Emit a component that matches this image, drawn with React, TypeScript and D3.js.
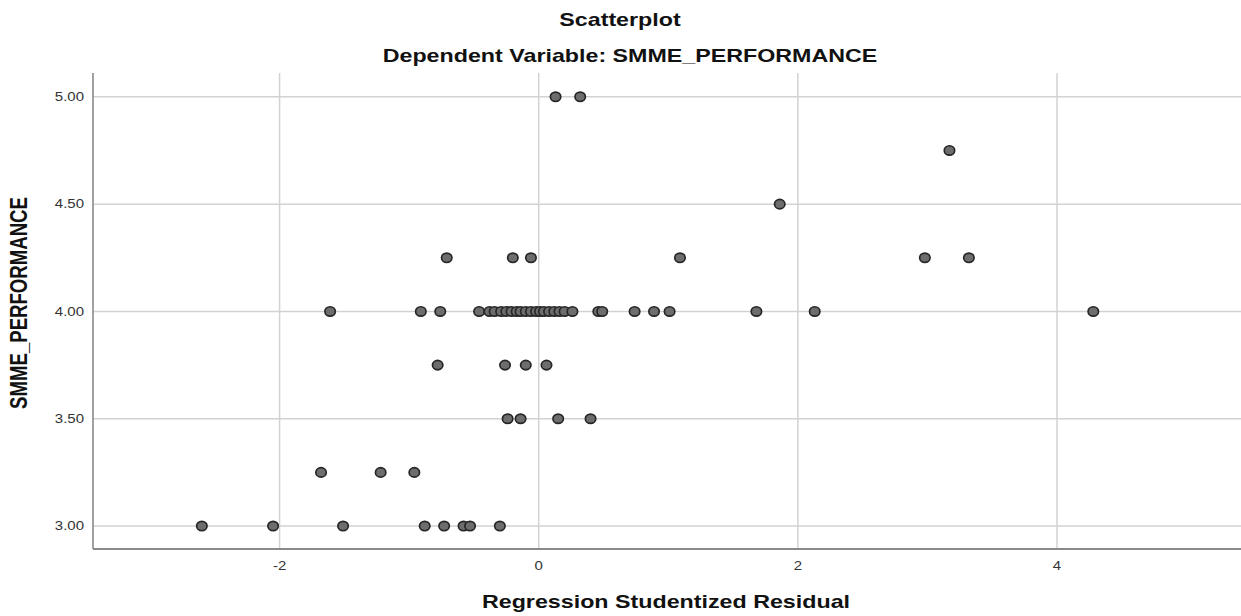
import React from 'react';
import * as d3 from 'd3';

const title = 'Scatterplot';
const subtitle = 'Dependent Variable: SMME_PERFORMANCE';
const xLabel = 'Regression Studentized Residual';
const yLabel = 'SMME_PERFORMANCE';
const xTicks = [-2, 0, 2, 4];
const yTicks = [3.0, 3.5, 4.0, 4.5, 5.0];

// residuals grouped by SMME_PERFORMANCE level
const perf500 = [0.13, 0.32];
const perf475 = [3.17];
const perf450 = [1.86];
const perf425 = [-0.71, -0.2, -0.06, 1.09, 2.98, 3.32];
const perf400 = [
  -1.61, -0.91, -0.76, -0.46, -0.38, -0.34, -0.29, -0.25, -0.21, -0.17, -0.14, -0.1, -0.06,
  -0.02, 0.01, 0.04, 0.08, 0.12, 0.16, 0.2, 0.26, 0.46, 0.49, 0.74, 0.89, 1.01, 1.68, 2.13, 4.28,
];
const perf375 = [-0.78, -0.26, -0.1, 0.06];
const perf350 = [-0.24, -0.14, 0.15, 0.4];
const perf325 = [-1.68, -1.22, -0.96];
const perf300 = [-2.6, -2.05, -1.51, -0.88, -0.73, -0.58, -0.53, -0.3];

const levels = [5.0, 4.75, 4.5, 4.25, 4.0, 3.75, 3.5, 3.25, 3.0];
const residualsByLevel = [perf500, perf475, perf450, perf425, perf400, perf375, perf350, perf325, perf300];

const W = 1241;
const H = 616;
const K = 1.25; // horizontal stretch of the reference
const VW = W / K;
const FONT = '"Liberation Sans", Arial, sans-serif';

export default function App() {
  const x = d3.scaleLinear().domain([-3.44, 5.42]).range([93 / K, W / K]);
  const y = d3.scaleLinear().domain([2.893, 5.111]).range([549, 73]);
  const [x0, x1] = x.range();
  const [yb, yt] = y.range();

  const points: { rx: number; lv: number }[] = [];
  levels.forEach((lv, i) => residualsByLevel[i].forEach((rx) => points.push({ rx, lv })));

  return (
    <svg
      width={W}
      height={H}
      viewBox={`0 0 ${VW} ${H}`}
      preserveAspectRatio="none"
      style={{ position: 'absolute', left: 0, top: 0, display: 'block' }}
    >
      <rect x={0} y={0} width={VW} height={H} fill="#fff" />
      {yTicks.map((t) => (
        <line key={'hy' + t} x1={x0} x2={x1} y1={y(t)} y2={y(t)} stroke="#d2d2d2" strokeWidth={1.5} vectorEffect="non-scaling-stroke" />
      ))}
      {xTicks.map((t) => (
        <line key={'vx' + t} x1={x(t)} x2={x(t)} y1={yt} y2={yb} stroke="#d2d2d2" strokeWidth={1.5} vectorEffect="non-scaling-stroke" />
      ))}
      <line x1={x0} x2={x0} y1={yt} y2={yb} stroke="#8a8a8a" strokeWidth={1.6} vectorEffect="non-scaling-stroke" />
      <line x1={x0} x2={x1} y1={yb} y2={yb} stroke="#8a8a8a" strokeWidth={1.8} vectorEffect="non-scaling-stroke" />
      {points.map((p, i) => (
        <ellipse
          key={i}
          cx={x(p.rx)}
          cy={y(p.lv)}
          rx={5.2 / K}
          ry={4.7}
          fill="#6d6d6d"
          stroke="#262626"
          strokeWidth={1.7}
          vectorEffect="non-scaling-stroke"
        />
      ))}
      {yTicks.map((t) => (
        <text key={'ly' + t} x={84 / K} y={y(t) + 4.3} textAnchor="end" fontFamily={FONT} fontSize={12} fill="#333">
          {t.toFixed(2)}
        </text>
      ))}
      {xTicks.map((t) => (
        <text key={'lx' + t} x={x(t)} y={570} textAnchor="middle" fontFamily={FONT} fontSize={12} fill="#333">
          {t}
        </text>
      ))}
      <text x={620 / K} y={26.5} textAnchor="middle" fontFamily={FONT} fontSize={18.6} fontWeight="bold" fill="#111">
        {title}
      </text>
      <text x={630 / K} y={62} textAnchor="middle" fontFamily={FONT} fontSize={18.6} fontWeight="bold" fill="#111">
        {subtitle}
      </text>
      <text x={666 / K} y={608} textAnchor="middle" fontFamily={FONT} fontSize={18.6} fontWeight="bold" fill="#111">
        {xLabel}
      </text>
      <text
        transform={`translate(${27 / K},303) rotate(-90)`}
        textAnchor="middle"
        fontFamily={FONT}
        fontSize={18.6}
        fontWeight="bold"
        fill="#111"
      >
        {yLabel}
      </text>
    </svg>
  );
}
